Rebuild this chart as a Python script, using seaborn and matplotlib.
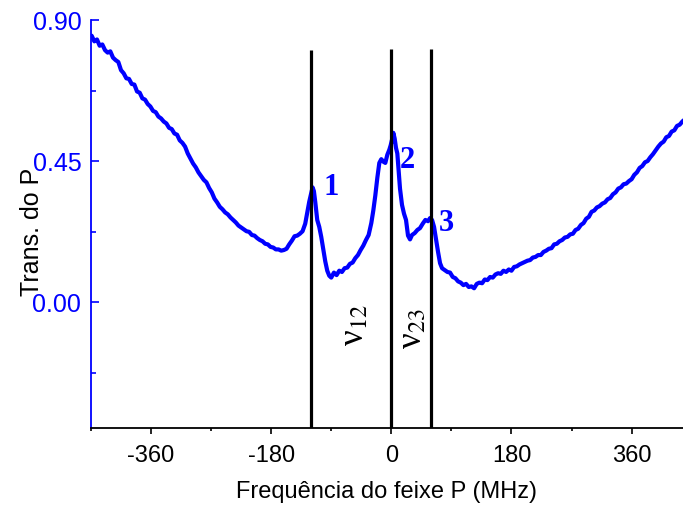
import numpy as np
import matplotlib
matplotlib.use("Agg")
import matplotlib.pyplot as plt
import seaborn as sns
from matplotlib.ticker import MultipleLocator

# %%
# transmission of probe beam vs frequency
freq = [
  -449, -445, -441, -437, -433, -429, -425, -421, -417, -413, -409, -405, -401,
  -397, -393, -389, -385, -381, -377, -373, -369, -365, -361, -357, -353, -349,
  -345, -341, -337, -333, -329, -325, -321, -317, -313, -309, -305, -301, -297,
  -293, -289, -285, -281, -277, -273, -269, -265, -261, -257, -253, -249, -245,
  -241, -237, -233, -229, -225, -221, -217, -213, -209, -205, -201, -197, -193,
  -189, -185, -181, -177, -173, -169, -165, -161, -157, -153, -149, -145, -141,
  -137, -133, -129, -126, -123, -120, -118, -116, -114, -111, -108, -105, -102,
  -99, -96, -93, -90, -86, -82, -78, -74, -70, -66, -62, -58, -54, -50, -46,
  -42, -38, -34, -30, -27, -24, -21, -18, -15, -12, -9, -6, -3, -1, 1, 3, 5,
  7, 9, 11, 13, 16, 19, 22, 25, 28, 31, 35, 39, 43, 47, 51, 55, 58, 61, 64, 67,
  70, 73, 76, 80, 84, 88, 92, 96, 100, 104, 108, 112, 116, 120, 124, 128, 132,
  136, 140, 144, 148, 152, 156, 160, 164, 168, 172, 176, 180, 184, 188, 192,
  196, 200, 204, 208, 212, 216, 220, 224, 228, 232, 236, 240, 244, 248, 252,
  256, 260, 264, 268, 272, 276, 280, 284, 288, 292, 296, 300, 304, 308, 312,
  316, 320, 324, 328, 332, 336, 340, 344, 348, 352, 356, 360, 364, 368, 372,
  376, 380, 384, 388, 392, 396, 400, 404, 408, 412, 416, 420, 424, 428, 432,
  436, 438,
]
trans = [
  0.850, 0.832, 0.838, 0.818, 0.822, 0.804, 0.796, 0.800, 0.780, 0.772, 0.766,
  0.740, 0.730, 0.714, 0.712, 0.696, 0.694, 0.672, 0.668, 0.650, 0.646, 0.632,
  0.624, 0.610, 0.606, 0.592, 0.586, 0.576, 0.570, 0.556, 0.552, 0.538, 0.534,
  0.516, 0.508, 0.496, 0.474, 0.458, 0.442, 0.430, 0.414, 0.402, 0.390, 0.382,
  0.364, 0.350, 0.330, 0.318, 0.304, 0.296, 0.286, 0.280, 0.270, 0.262, 0.254,
  0.244, 0.238, 0.232, 0.226, 0.224, 0.214, 0.212, 0.204, 0.198, 0.194, 0.186,
  0.184, 0.176, 0.174, 0.168, 0.168, 0.164, 0.166, 0.170, 0.184, 0.196, 0.210,
  0.212, 0.218, 0.226, 0.250, 0.286, 0.320, 0.348, 0.366, 0.354, 0.320, 0.262,
  0.240, 0.208, 0.168, 0.130, 0.100, 0.084, 0.078, 0.094, 0.086, 0.100, 0.096,
  0.108, 0.110, 0.122, 0.126, 0.140, 0.150, 0.166, 0.180, 0.198, 0.214, 0.252,
  0.292, 0.340, 0.396, 0.444, 0.456, 0.448, 0.444, 0.470, 0.486, 0.500, 0.518,
  0.540, 0.522, 0.492, 0.474, 0.420, 0.362, 0.310, 0.282, 0.262, 0.212, 0.200,
  0.214, 0.220, 0.230, 0.236, 0.250, 0.262, 0.258, 0.268, 0.262, 0.240, 0.200,
  0.160, 0.124, 0.108, 0.102, 0.096, 0.094, 0.080, 0.076, 0.066, 0.062, 0.054,
  0.058, 0.048, 0.050, 0.044, 0.058, 0.062, 0.060, 0.072, 0.070, 0.080, 0.078,
  0.088, 0.092, 0.090, 0.100, 0.096, 0.104, 0.100, 0.112, 0.114, 0.120, 0.124,
  0.128, 0.132, 0.134, 0.142, 0.144, 0.150, 0.150, 0.160, 0.164, 0.170, 0.172,
  0.184, 0.186, 0.194, 0.198, 0.206, 0.208, 0.216, 0.218, 0.230, 0.234, 0.246,
  0.252, 0.266, 0.272, 0.288, 0.292, 0.302, 0.306, 0.314, 0.318, 0.328, 0.332,
  0.344, 0.350, 0.362, 0.366, 0.376, 0.378, 0.386, 0.392, 0.406, 0.414, 0.428,
  0.434, 0.446, 0.450, 0.462, 0.472, 0.484, 0.496, 0.506, 0.512, 0.526, 0.530,
  0.544, 0.548, 0.562, 0.566, 0.576, 0.580,
]

# resonance markers
line_pos = [-120, 0, 60]
line_top = [0.804, 0.807, 0.807]
peak_labels = ["1", "2", "3"]
peak_x = [-90, 24, 83]
peak_y = [0.365, 0.453, 0.252]
nu_labels = ["ν$_{12}$", "ν$_{23}$"]
nu_x = [-55, 32]
nu_y = [-0.073, -0.086]

# %%
sns.set_style("ticks")
plt.rcParams['font.family'] = ['Liberation Sans', 'DejaVu Sans']
plt.rcParams['mathtext.fontset'] = 'stix'
plt.rcParams['axes.unicode_minus'] = False

blue = "#0000ff"
fig = plt.figure(figsize=(6.83, 5.11), dpi=100)
ax = fig.add_axes([0.1332, 0.1624, 0.8668, 0.7984])

sns.lineplot(
  x=freq,
  y=trans,
  color=blue,
  linewidth=3.0,
  estimator=None,
  sort=False,
  ax=ax
)

for xp, yt in zip(line_pos, line_top):
  ax.plot([xp, xp], [-0.402, yt], color="black", lw=2.3, solid_capstyle="butt")

for lab, xp, yp in zip(peak_labels, peak_x, peak_y):
  ax.text(xp, yp, lab, color=blue, fontsize=22, fontweight="bold",
          family=["Liberation Serif", "DejaVu Serif"], ha="center", va="center")

for lab, xp, yp in zip(nu_labels, nu_x, nu_y):
  ax.text(xp, yp, lab, color="black", fontsize=25, rotation=90,
          family=["Liberation Serif", "DejaVu Serif"], ha="center", va="center")

ax.set_xlim(-450, 437)
ax.set_ylim(-0.402, 0.9)
ax.xaxis.set_major_locator(MultipleLocator(180))
ax.xaxis.set_minor_locator(MultipleLocator(90))
ax.yaxis.set_major_locator(MultipleLocator(0.45))
ax.yaxis.set_minor_locator(MultipleLocator(0.225))
ax.yaxis.set_major_formatter(matplotlib.ticker.FormatStrFormatter("%.2f"))

for s in ["top", "right"]:
  ax.spines[s].set_visible(False)
ax.spines["left"].set_color(blue)
ax.spines["left"].set_linewidth(1.3)
ax.spines["bottom"].set_color("black")
ax.spines["bottom"].set_linewidth(1.3)

ax.tick_params(axis="x", which="major", direction="out", length=4, width=1.2,
               labelsize=17, pad=8, colors="black")
ax.tick_params(axis="x", which="minor", direction="out", length=2.5, width=1.2,
               colors="black")
ax.tick_params(axis="y", which="major", direction="in", length=6, width=1.2,
               labelsize=18, pad=7, colors=blue)
ax.tick_params(axis="y", which="minor", direction="in", length=3.5, width=1.2,
               colors=blue)

ax.set_xlabel("Frequência do feixe P (MHz)", fontsize=17, labelpad=10,
              color="black")
ax.set_ylabel("Trans. do P", fontsize=18, color="black")
ax.yaxis.set_label_coords(-0.08, 0.48)

plt.savefig("out.png", dpi=100)
